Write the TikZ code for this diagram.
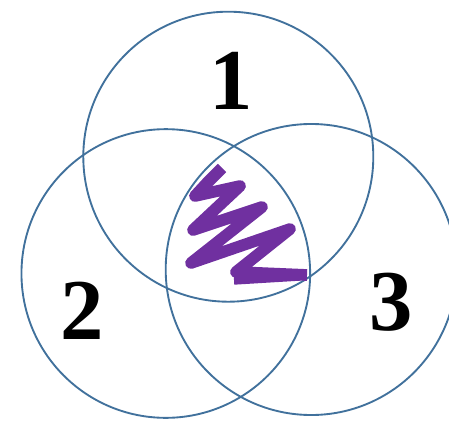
\documentclass[tikz,border=0pt]{standalone}
\usepackage{fontspec}
\setmainfont{Liberation Serif}
\usetikzlibrary{positioning}
\definecolor{ringblue}{HTML}{41719C}
\definecolor{scribble}{HTML}{7030A0}

\begin{document}
\begin{tikzpicture}[x=0.03cm,y=-0.03cm,
  ring/.style={draw=ringblue,circle,line width=1.6pt,minimum size=8.7cm,inner sep=0pt},
  num/.style={font=\fontsize{74}{74}\selectfont\bfseries,inner sep=0pt},
  mark line/.style={draw=scribble,line width=10pt,line join=round}]
\useasboundingbox (0,0) rectangle (449,420);
% the three sets
\node[ring] (c1) at (228.3,156.7) {};
\node[ring,minimum size=8.66cm] (c2) at (165.8,273.5) {};
\node[ring,minimum size=8.73cm] (c3) at (311.2,269.5) {};
\node[num] (n1) at (231.5,81) {1};
\node[num] (n2) at (82,311) {2};
\node[num] (n3) at (391.5,302) {3};
% shading of the common part
\draw[mark line] (222,168) -- (207,183) -- (195,196) -- (240,186)
  -- (193,230) -- (262,207) -- (191,263) -- (290,229)
  -- (236,272) -- (307,275);
\draw[mark line,line width=8pt] (300,276) -- (234,280);
\end{tikzpicture}
\end{document}
